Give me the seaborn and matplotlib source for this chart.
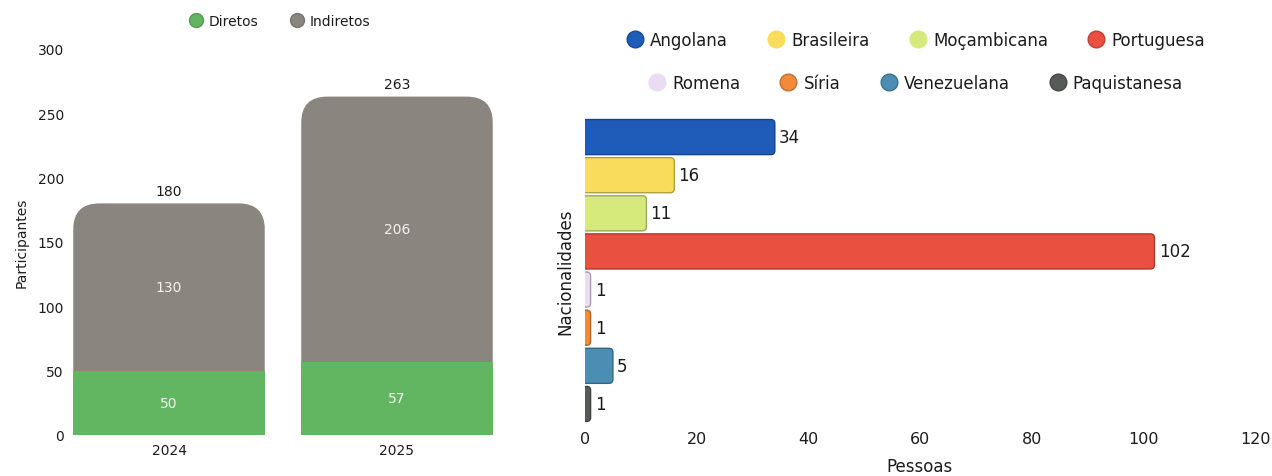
import matplotlib
matplotlib.use("Agg")
import matplotlib.pyplot as plt
from matplotlib.patches import FancyBboxPatch
from matplotlib.lines import Line2D
import matplotlib.colors as mcolors
import seaborn as sns
import pandas as pd

# --- data -------------------------------------------------------------
anos = ["2024", "2025"]
diretos = [50, 57]
indiretos = [130, 206]

nacionalidades = ["Angolana", "Brasileira", "Moçambicana", "Portuguesa",
                  "Romena", "Síria", "Venezuelana", "Paquistanesa"]
pessoas = [34, 16, 11, 102, 1, 1, 5, 1]

# --- style ------------------------------------------------------------
sns.set_style("white")
plt.rcParams["font.family"] = ["DejaVu Sans"]
TXT = "#1c1c1c"
plt.rcParams["text.color"] = TXT
plt.rcParams["axes.labelcolor"] = TXT
plt.rcParams["xtick.color"] = TXT
plt.rcParams["ytick.color"] = TXT

VERDE = "#62b662"
CINZA = "#8b8580"
cores_nac = ["#1f5cba", "#f9dc5c", "#d6ea7c", "#e9503f",
             "#eadcf2", "#f28a3b", "#4b8db3", "#575b57"]

def escurecer(c, f=0.75):
    r, g, b = mcolors.to_rgb(c)
    return (r * f, g * f, b * f)

W, H = 1272, 477
fig = plt.figure(figsize=(W / 100, H / 100), dpi=100)
ax1 = fig.add_axes([68 / W, 41 / H, 430 / W, 386 / H])
ax2 = fig.add_axes([585 / W, 53 / H, 670 / W, 305 / H])


def arredondar(ax, patches, r_px, lado, ec=None, lw=0):
    """Replace bar patches by rounded boxes; the base side is pushed past
    the axis so its corners are clipped away and stay square."""
    x0d, y0d = ax.transData.transform((0, 0))
    x1d, y1d = ax.transData.transform((1, 1))
    sx, sy = abs(x1d - x0d), abs(y1d - y0d)
    rx, ry = r_px / sx, r_px / sy
    for i, p in enumerate(patches):
        x, y, w, h = p.get_x(), p.get_y(), p.get_width(), p.get_height()
        if lado == "bottom":
            y, h = y - ry, h + ry
        else:
            x, w = x - rx, w + rx
        rs = min(rx, w / 2)
        fb = FancyBboxPatch((x, y), w, h,
                            boxstyle=f"round,pad=0,rounding_size={rs}",
                            mutation_aspect=ry / rx,
                            fc=p.get_facecolor(),
                            ec=ec[i] if ec is not None else "none",
                            lw=lw, zorder=p.get_zorder(),
                            transform=ax.transData, clip_on=True)
        ax.add_patch(fb)
        p.set_visible(False)


# --- left: participants per year (stacked) ------------------------------
df_part = pd.DataFrame({"Ano": anos, "Diretos": diretos,
                        "Indiretos": indiretos})
df_part["Total"] = df_part["Diretos"] + df_part["Indiretos"]

sns.barplot(data=df_part, x="Ano", y="Total", color=CINZA, saturation=1,
            width=0.84, ax=ax1, zorder=2, linewidth=0, edgecolor="none")
n_total = len(ax1.patches)
sns.barplot(data=df_part, x="Ano", y="Diretos", color=VERDE, saturation=1,
            width=0.84, ax=ax1, zorder=3, linewidth=0, edgecolor="none")
ax1.set_xlim(-0.443, 1.443)
ax1.set_ylim(0, 300)
ax1.set_yticks(range(0, 301, 50))
ax1.set_xlabel("")
ax1.set_ylabel("Participantes", fontsize=10, labelpad=6)
ax1.tick_params(axis="both", labelsize=10, length=0, pad=6)
ax1.tick_params(axis="y", pad=3)
sns.despine(ax=ax1, left=True, bottom=True)

arredondar(ax1, ax1.patches[:n_total], 26, "bottom")

for i, row in df_part.iterrows():
    ax1.annotate(f"{row['Total']}", (i, row["Total"]), xytext=(0, 4),
                 textcoords="offset points", ha="center", va="bottom",
                 fontsize=10)
    ax1.text(i, row["Diretos"] + row["Indiretos"] / 2, f"{row['Indiretos']}",
             ha="center", va="center", fontsize=10, color="#f4f2ee", zorder=5)
    ax1.text(i, row["Diretos"] / 2, f"{row['Diretos']}",
             ha="center", va="center", fontsize=10, color="#f4f2ee", zorder=5)

h1 = [Line2D([], [], ls="", marker="o", markersize=10, mfc=c,
             mec=escurecer(c, 0.85), mew=1) for c in (VERDE, CINZA)]
fig.legend(h1, ["Diretos", "Indiretos"], loc="center",
           bbox_to_anchor=(279 / W, 1 - 22 / H), ncol=2, frameon=False,
           fontsize=10, handletextpad=0.3, columnspacing=2.2,
           handlelength=1.2)

# --- right: people per nationality ------------------------------------
df_nac = pd.DataFrame({"Nacionalidade": nacionalidades, "Pessoas": pessoas})
sns.barplot(data=df_nac, y="Nacionalidade", x="Pessoas",
            hue="Nacionalidade", palette=cores_nac, saturation=1,
            width=0.92, legend=False, ax=ax2, orient="h")
ax2.set_xlim(0, 120)
ax2.set_ylim(7.5, -0.5)
ax2.set_xticks(range(0, 121, 20))
ax2.set_yticks([])
ax2.set_xlabel("Pessoas", fontsize=12, labelpad=8)
ax2.set_ylabel("Nacionalidades", fontsize=12, labelpad=8)
ax2.tick_params(axis="x", labelsize=11.5, length=0, pad=6)
sns.despine(ax=ax2, left=True, bottom=True)

barras = [p for p in ax2.patches if p.get_height() > 0]
barras.sort(key=lambda p: p.get_y())
arredondar(ax2, barras, 4, "left",
           ec=[escurecer(c, 0.72) for c in cores_nac], lw=1.0)

for i, v in enumerate(pessoas):
    ax2.annotate(f"{v}", (v, i), xytext=(3, 0), textcoords="offset points",
                 ha="left", va="center", fontsize=12)

h_nac = [Line2D([], [], ls="", marker="o", markersize=12, mfc=c,
                mec=escurecer(c, 0.8) if i not in (1, 2, 4) else c, mew=1)
         for i, c in enumerate(cores_nac)]
fig.legend(h_nac[:4], nacionalidades[:4], loc="center",
           bbox_to_anchor=(915 / W, 1 - 41 / H), ncol=4, frameon=False,
           fontsize=12, handletextpad=0.3, columnspacing=2.3,
           handlelength=1.2)
fig.legend(h_nac[4:], nacionalidades[4:], loc="center",
           bbox_to_anchor=(915 / W, 1 - 84 / H), ncol=4, frameon=False,
           fontsize=12, handletextpad=0.3, columnspacing=2.3,
           handlelength=1.2)

fig.savefig("out.png", dpi=100, facecolor="white")
